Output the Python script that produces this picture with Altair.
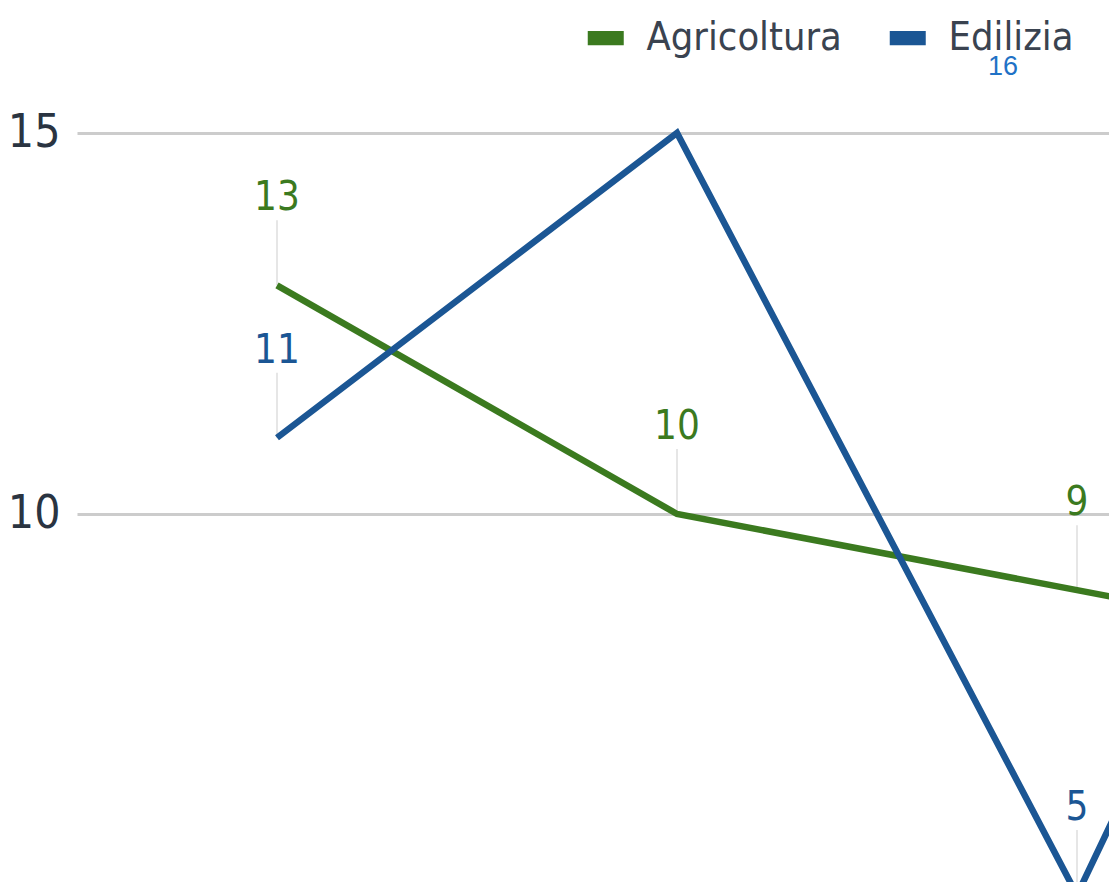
import altair as alt
import pandas as pd

# ---- data ----
periods = [1, 2, 3, 4]
agricoltura = [13, 10, 9, 8]
edilizia = [11, 15, 5, 16]
series_names = ["Agricoltura", "Edilizia"]
series_colors = ["#3b7a1f", "#1b5694"]
label_agri = [True, True, True, True]
label_edil = [True, False, True, True]
y_ticks = [5, 10, 15]
stray_text = ["16"]
stray_x = [2.815]
stray_y = [15.86]

rows = []
for p, a, la in zip(periods, agricoltura, label_agri):
    rows.append({"period": p, "value": a, "series": "Agricoltura", "lab": la})
for p, e, le in zip(periods, edilizia, label_edil):
    rows.append({"period": p, "value": e, "series": "Edilizia", "lab": le})
df = pd.DataFrame(rows)
stray = pd.DataFrame({"period": stray_x, "value": stray_y, "text": stray_text})

FONT = "DejaVu Sans Condensed"

xs = alt.X("period:Q", scale=alt.Scale(domain=[0.5, 3.08], nice=False, zero=False), axis=None)
ys = alt.Y(
    "value:Q",
    scale=alt.Scale(domain=[5.17, 16.64], nice=False, zero=False),
    axis=alt.Axis(
        values=y_ticks, grid=True, gridColor="#cccccc", gridWidth=3,
        ticks=False, domain=False, labelFontSize=46, labelFont=FONT,
        labelColor="#2a3441", labelPadding=17, title=None,
    ),
)
color_scale = alt.Scale(domain=series_names, range=series_colors)

base = alt.Chart(df)

legend_layer = base.mark_square(filled=True).encode(
    x=xs, y=ys,
    color=alt.Color(
        "series:N", scale=color_scale,
        legend=alt.Legend(
            orient="none", legendX=509, legendY=10, direction="horizontal",
            title=None, symbolType="M-1,-0.4L1,-0.4L1,0.4L-1,0.4Z",
            symbolSize=1296, symbolStrokeWidth=0, labelFontSize=39.5,
            labelFont=FONT, labelColor="#3a4350", labelOffset=21,
            columnPadding=46, padding=0, symbolOpacity=1, labelLimit=0,
        ),
    ),
).transform_filter("datum.value < -1000")

leaders = base.transform_filter("datum.lab").mark_rule(
    color="#dedede", strokeWidth=1.5, y2Offset=-65, clip=True
).encode(x=xs, y=ys, y2=alt.Y2("value:Q"))

lines = base.mark_line(strokeWidth=6.5, clip=True).encode(
    x=xs, y=ys, color=alt.Color("series:N", scale=color_scale, legend=None),
    order="period:Q",
)

labels = base.transform_filter("datum.lab").mark_text(
    dy=-87, fontSize=40, font=FONT, baseline="middle", align="center", clip=True
).encode(
    x=xs, y=ys, text=alt.Text("value:Q"),
    color=alt.Color("series:N", scale=color_scale, legend=None),
)

stray_layer = alt.Chart(stray).mark_text(
    fontSize=27, font="Liberation Sans, Arial, sans-serif", color="#1f72c6",
    baseline="middle", align="center",
).encode(x=xs, y=ys, text="text:N")

chart = alt.layer(legend_layer, leaders, lines, labels, stray_layer).properties(
    width=1032, height=874,
    background="white",
    autosize=alt.AutoSizeParams(type="none"),
    padding={"left": 69, "top": 0, "right": 0, "bottom": 0},
).configure_view(stroke=None)

chart.save("out.html", embed_options={"renderer": "svg", "actions": False})
